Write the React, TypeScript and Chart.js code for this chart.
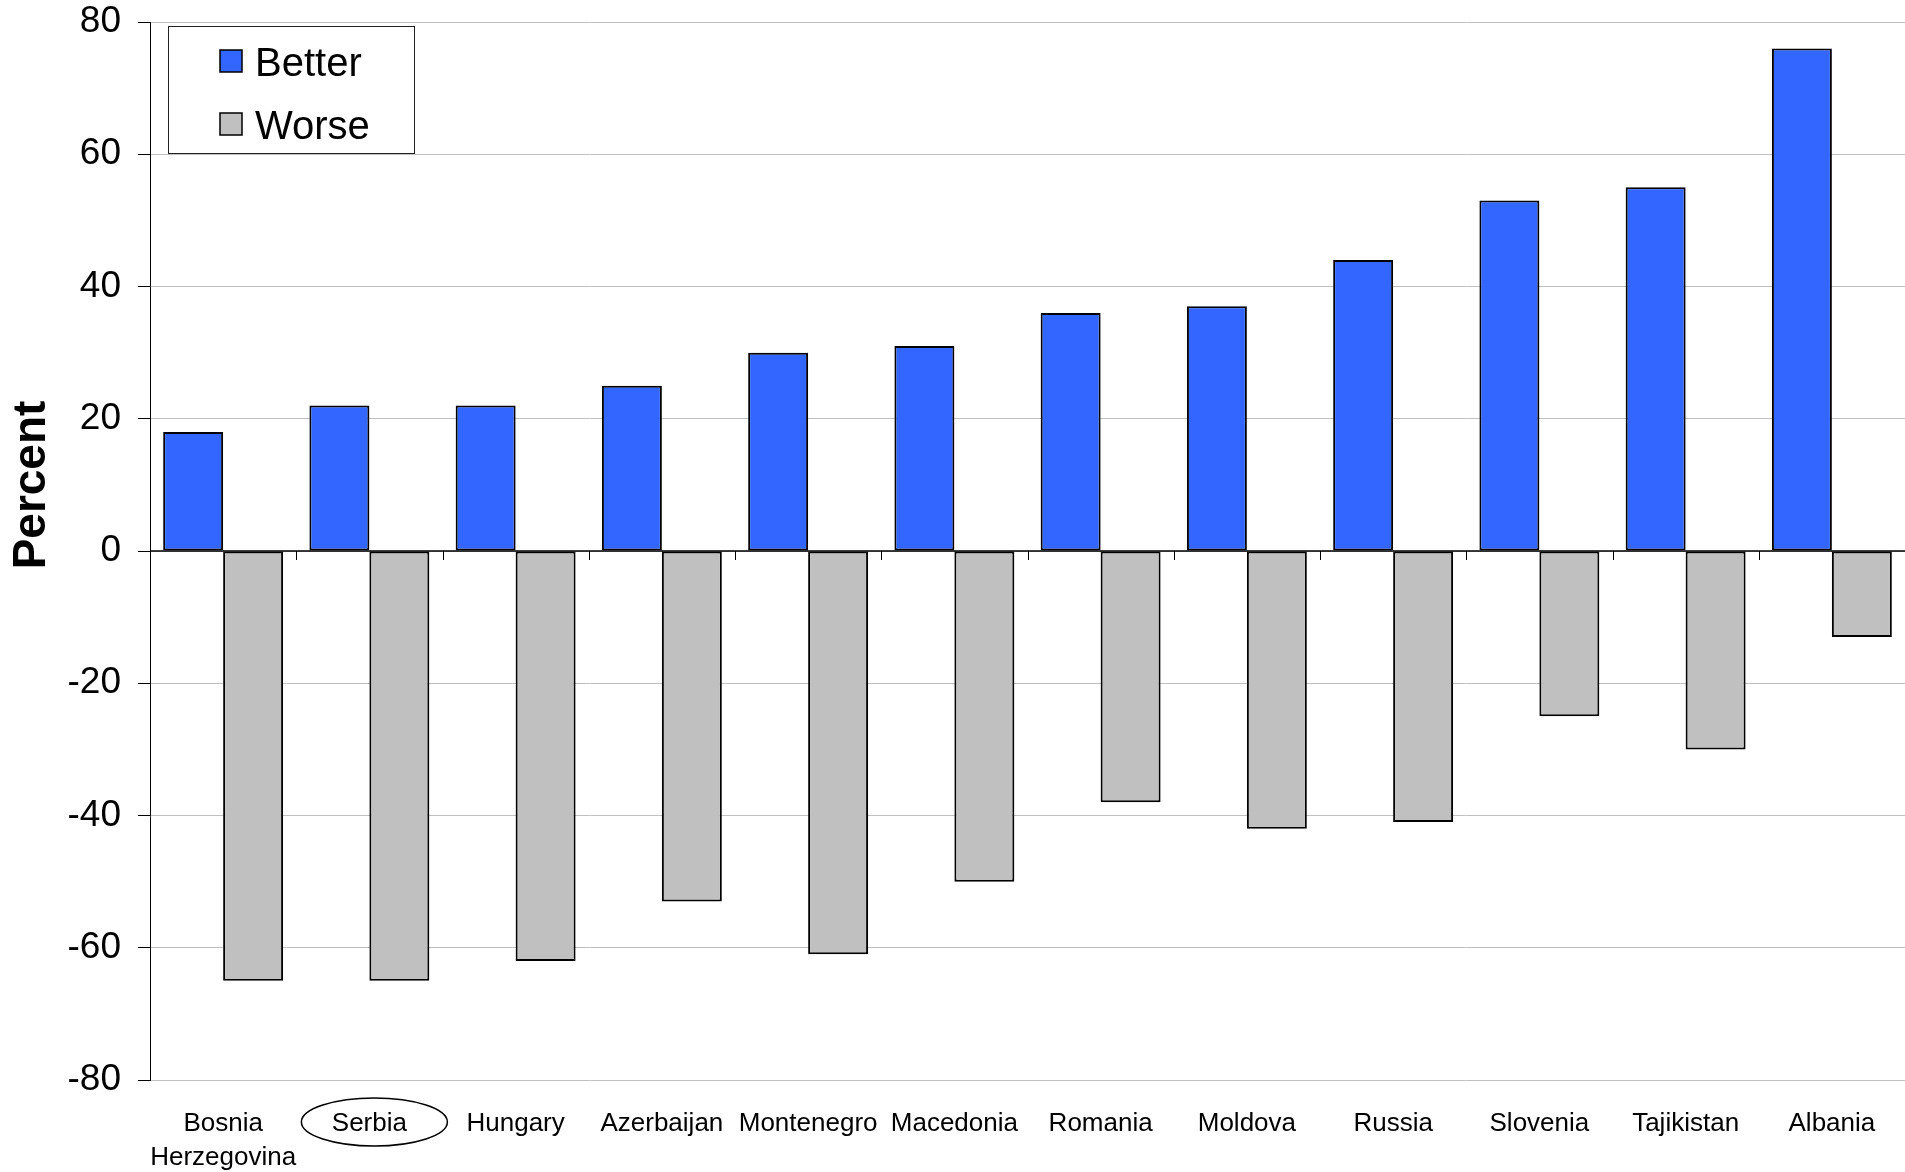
import React, { useEffect, useRef } from "react";
import { Chart, registerables } from "chart.js";

Chart.register(...registerables);

const categories: (string | string[])[] = [
  ["Bosnia", "Herzegovina"],
  "Serbia",
  "Hungary",
  "Azerbaijan",
  "Montenegro",
  "Macedonia",
  "Romania",
  "Moldova",
  "Russia",
  "Slovenia",
  "Tajikistan",
  "Albania",
];
const betterValues = [18, 22, 22, 25, 30, 31, 36, 37, 44, 53, 55, 76];
const worseValues = [-65, -65, -62, -53, -61, -50, -38, -42, -41, -25, -30, -13];
const seriesNames = ["Better", "Worse"];
const yTitle = "Percent";
const highlightedIndex = 1;

const FONT = "'Liberation Sans', Arial, sans-serif";
const BLUE = "#3366FF";
const GREY = "#C0C0C0";

const customPlugin = {
  id: "custom",
  beforeDatasetsDraw(chart: any) {
    const { ctx, chartArea, scales } = chart;
    const y0 = scales.y.getPixelForValue(0);
    ctx.save();
    ctx.strokeStyle = "#000";
    ctx.lineWidth = 1.5;
    ctx.beginPath();
    ctx.moveTo(chartArea.left, y0);
    ctx.lineTo(chartArea.right, y0);
    ctx.stroke();
    const n = categories.length;
    const w = (chartArea.right - chartArea.left) / n;
    ctx.lineWidth = 1;
    for (let i = 1; i <= n; i++) {
      const x = Math.round(chartArea.left + i * w) + 0.5;
      ctx.beginPath();
      ctx.moveTo(x, y0);
      ctx.lineTo(x, y0 + 9);
      ctx.stroke();
    }
    ctx.restore();
  },
  afterDraw(chart: any) {
    const { ctx, chartArea, scales } = chart;
    ctx.save();
    ctx.translate(32, 485);
    ctx.rotate(-Math.PI / 2);
    ctx.font = `bold 46px ${FONT}`;
    ctx.fillStyle = "#000";
    ctx.textAlign = "center";
    ctx.textBaseline = "middle";
    ctx.fillText(yTitle, 0, 0);
    ctx.restore();

    // legend
    ctx.save();
    const bx = 168.5, by = 26.5, bw = 246, bh = 127;
    ctx.fillStyle = "#fff";
    ctx.fillRect(bx, by, bw, bh);
    ctx.strokeStyle = "#222";
    ctx.lineWidth = 1;
    ctx.strokeRect(bx, by, bw, bh);
    const colors = [BLUE, GREY];
    const centers = [61, 124];
    ctx.font = `40px ${FONT}`;
    ctx.textBaseline = "middle";
    ctx.textAlign = "left";
    seriesNames.forEach((name, i) => {
      const cy = centers[i];
      ctx.fillStyle = colors[i];
      ctx.fillRect(220, cy - 11, 22, 22);
      ctx.strokeStyle = "#000";
      ctx.lineWidth = 1.5;
      ctx.strokeRect(220, cy - 11, 22, 22);
      ctx.fillStyle = "#000";
      ctx.fillText(name, 255, cy + 4);
    });
    ctx.restore();

    // ellipse around highlighted label
    ctx.save();
    const cx = scales.x.getPixelForValue(highlightedIndex) + 5;
    const cy = chartArea.bottom + 42;
    ctx.strokeStyle = "#000";
    ctx.lineWidth = 1.5;
    ctx.beginPath();
    ctx.ellipse(cx, cy, 73, 24, 0, 0, Math.PI * 2);
    ctx.stroke();
    ctx.restore();
  },
};

export default function App() {
  const ref = useRef<HTMLCanvasElement>(null);
  useEffect(() => {
    document.body.style.margin = "0";
    const canvas = ref.current!;
    const chart = new Chart(canvas, {
      type: "bar",
      data: {
        labels: categories,
        datasets: [
          {
            label: seriesNames[0],
            data: betterValues,
            backgroundColor: BLUE,
            borderColor: "#000",
            borderWidth: 2,
            borderSkipped: false,
          },
          {
            label: seriesNames[1],
            data: worseValues,
            backgroundColor: GREY,
            borderColor: "#000",
            borderWidth: 2,
            borderSkipped: false,
          },
        ],
      },
      options: {
        responsive: false,
        animation: false,
        devicePixelRatio: 1,
        layout: { padding: { top: 22, left: 0, right: 0, bottom: 0 } },
        datasets: { bar: { barPercentage: 1, categoryPercentage: 0.82 } },
        plugins: {
          legend: { display: false },
          tooltip: { enabled: false },
          title: { display: false },
        },
        scales: {
          x: {
            grid: { display: false, drawTicks: false },
            border: { display: false },
            ticks: {
              color: "#000",
              font: { family: FONT, size: 26, lineHeight: 1.3 },
              padding: 27,
              maxRotation: 0,
              minRotation: 0,
              autoSkip: false,
            },
            afterFit(scale: any) {
              scale.height = 92;
              scale.paddingLeft = 0;
              scale.paddingRight = 0;
            },
          },
          y: {
            min: -80,
            max: 80,
            grid: { color: GREY, lineWidth: 1, tickLength: 12, tickColor: "#000" },
            border: { display: true, color: "#000", width: 1 },
            ticks: {
              stepSize: 20,
              color: "#000",
              font: { family: FONT, size: 37, lineHeight: 1.1 },
              padding: 17,
            },
            afterFit(scale: any) {
              scale.width = 150;
              scale.paddingTop = 0;
              scale.paddingBottom = 0;
            },
          },
        },
      },
      plugins: [customPlugin],
    });
    return () => chart.destroy();
  }, []);
  return (
    <div style={{ position: "absolute", left: 0, top: 0, width: 1905, height: 1172 }}>
      <canvas ref={ref} width={1905} height={1172} />
    </div>
  );
}
